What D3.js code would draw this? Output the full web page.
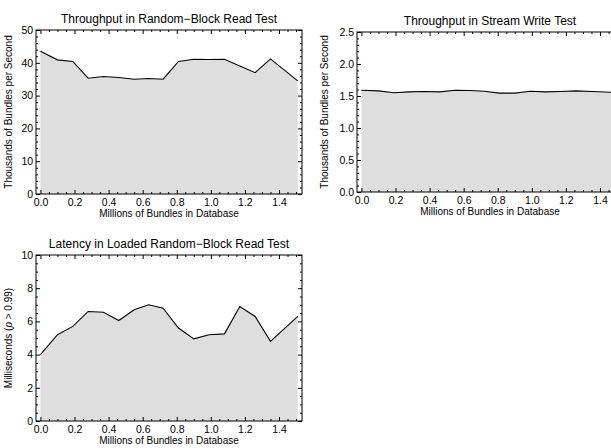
<!DOCTYPE html>
<html>
<head>
<meta charset="utf-8">
<script src="https://cdn.jsdelivr.net/npm/d3@7"></script>
<style>
  body { margin: 0; background: #fff; }
  svg { display: block; }
  text { font-family: "Liberation Sans", Arial, sans-serif; fill: #000; }
  .domain { stroke: none; }
</style>
</head>
<body>
<div id="chart"></div>
<script>
// Data
var bundles = [0.0, 0.1, 0.19, 0.28, 0.37, 0.46, 0.55, 0.635, 0.72, 0.81, 0.9, 0.99, 1.08, 1.17, 1.26, 1.35, 1.51];
var readThroughput = [43.5, 40.9, 40.4, 35.3, 35.8, 35.5, 35.0, 35.2, 35.0, 40.4, 41.1, 41.0, 41.1, 39.0, 37.0, 41.2, 34.5];
var writeThroughput = [1.59, 1.58, 1.55, 1.565, 1.57, 1.565, 1.59, 1.585, 1.575, 1.545, 1.545, 1.575, 1.565, 1.57, 1.58, 1.57, 1.555];
var latency = [4.0, 5.2, 5.7, 6.6, 6.55, 6.05, 6.7, 7.0, 6.8, 5.6, 4.95, 5.2, 5.25, 6.9, 6.3, 4.8, 6.3];
var xTicks = [0, 0.2, 0.4, 0.6, 0.8, 1.0, 1.2, 1.4];

var width = 611, height = 448;

var svg = d3.select("#chart").append("svg")
  .attr("width", width)
  .attr("height", height);

// One panel: frame box in pixels, y domain and tick steps
function drawPanel(p) {
  var x = d3.scaleLinear().domain([-0.026, 1.535]).range([p.left, p.left + p.w]);
  var y = d3.scaleLinear().domain([0, p.yMax]).range([p.top + p.h, p.top]);
  var g = svg.append("g");

  var clipId = "clip" + p.id;
  g.append("clipPath").attr("id", clipId)
    .append("rect").attr("x", p.left).attr("y", p.top).attr("width", p.w).attr("height", p.h);

  var pts = bundles.map(function(d, i) { return [d, p.values[i]]; });

  var area = d3.area()
    .x(function(d) { return x(d[0]); })
    .y0(y(0))
    .y1(function(d) { return y(d[1]); });
  var line = d3.line()
    .x(function(d) { return x(d[0]); })
    .y(function(d) { return y(d[1]); });

  var plot = g.append("g").attr("clip-path", "url(#" + clipId + ")");
  plot.append("path").datum(pts).attr("d", area).attr("fill", "#dedede");
  plot.append("path").datum(pts).attr("d", line)
    .attr("fill", "none").attr("stroke", "#000").attr("stroke-width", 1.1);

  var yMajor = d3.range(0, p.yMax + 1e-9, p.yStep);
  var yMinor = d3.range(0, p.yMax + 1e-9, p.yMinor).filter(function(v) {
    return yMajor.every(function(m) { return Math.abs(m - v) > 1e-9; });
  });
  var xMinor = d3.range(-0.0, 1.535, 0.05).filter(function(v) {
    return xTicks.every(function(m) { return Math.abs(m - v) > 1e-9; });
  });

  function ticks(axis, values, size, pos, fmt) {
    var a = axis.tickValues(values).tickSize(-size).tickSizeOuter(0);
    if (fmt) a.tickFormat(fmt).tickPadding(5); else a.tickFormat("");
    var t = g.append("g").attr("transform", pos).call(a);
    t.selectAll("line").attr("stroke", "#000");
    t.selectAll("text").style("font-size", "10.5px");
    return t;
  }

  var bottom = "translate(0," + (p.top + p.h) + ")";
  var topPos = "translate(0," + p.top + ")";
  var leftPos = "translate(" + p.left + ",0)";
  var rightPos = "translate(" + (p.left + p.w) + ",0)";

  ticks(d3.axisBottom(x), xTicks, 4, bottom, d3.format(".1f"));
  ticks(d3.axisBottom(x), xMinor, 2, bottom);
  ticks(d3.axisTop(x), xTicks, 4, topPos);
  ticks(d3.axisTop(x), xMinor, 2, topPos);
  ticks(d3.axisLeft(y), yMajor, 4, leftPos, d3.format(p.yFmt)).selectAll("text").attr("dx", "0.2em");
  ticks(d3.axisLeft(y), yMinor, 2, leftPos);
  ticks(d3.axisRight(y), yMajor, 4, rightPos);
  ticks(d3.axisRight(y), yMinor, 2, rightPos);

  g.append("rect")
    .attr("x", p.left).attr("y", p.top).attr("width", p.w).attr("height", p.h)
    .attr("fill", "none").attr("stroke", "#000").attr("stroke-width", 1);

  // Titles and axis labels
  g.append("text")
    .attr("x", p.left + p.w / 2).attr("y", p.top - 7)
    .attr("text-anchor", "middle").style("font-size", "12px")
    .text(p.title);

  g.append("text")
    .attr("x", p.left + p.w / 2).attr("y", p.top + p.h + 23)
    .attr("text-anchor", "middle").style("font-size", "10px")
    .text("Millions of Bundles in Database");

  var yl = g.append("text")
    .attr("transform", "translate(" + p.yLabelX + "," + (p.top + p.h / 2) + ") rotate(-90)")
    .attr("text-anchor", "middle").style("font-size", "10px");
  if (p.italic) {
    yl.append("tspan").text("Milliseconds (");
    yl.append("tspan").style("font-style", "italic").text("p");
    yl.append("tspan").text(" > 0.99)");
  } else {
    yl.text(p.yLabel);
  }
}

drawPanel({ id: 1, left: 36, top: 30, w: 266, h: 164, yMax: 50, yStep: 10, yMinor: 2, yFmt: "d",
  values: readThroughput, title: "Throughput in Random\u2212Block Read Test",
  yLabel: "Thousands of Bundles per Second", yLabelX: 12 });

drawPanel({ id: 2, left: 357, top: 32, w: 266, h: 160, yMax: 2.5, yStep: 0.5, yMinor: 0.1, yFmt: ".1f",
  values: writeThroughput, title: "Throughput in Stream Write Test",
  yLabel: "Thousands of Bundles per Second", yLabelX: 328 });

drawPanel({ id: 3, left: 36, top: 255, w: 266, h: 166, yMax: 10, yStep: 2, yMinor: 0.5, yFmt: "d",
  values: latency, title: "Latency in Loaded Random\u2212Block Read Test",
  italic: true, yLabelX: 12 });
</script>
</body>
</html>
